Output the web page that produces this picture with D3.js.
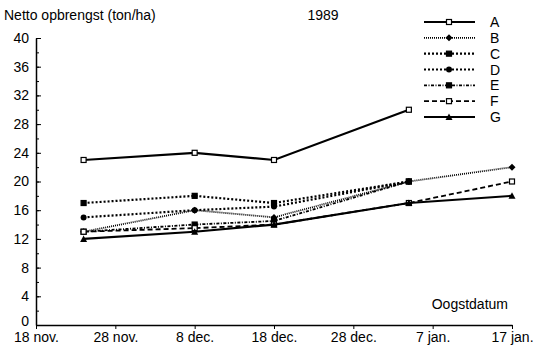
<!DOCTYPE html>
<html>
<head>
<meta charset="utf-8">
<script src="https://cdn.jsdelivr.net/npm/d3@7"></script>
<style>
  body { margin: 0; background: #fff; }
  text { font-family: "Liberation Sans", Arial, sans-serif; fill: #000; }
</style>
</head>
<body>
<svg width="534" height="350"></svg>
<script>
// Harvest dates (one sample per date) and tick labels
var dates = ['1988-11-24', '1988-12-08', '1988-12-18', '1989-01-04', '1989-01-17'];
var tickDates = ['1988-11-18', '1988-11-28', '1988-12-08', '1988-12-18', '1988-12-28', '1989-01-07', '1989-01-17'];
var tickLabels = ['18 nov.', '28 nov.', '8 dec.', '18 dec.', '28 dec.', '7 jan.', '17 jan.'];
var seriesNames = ['A', 'B', 'C', 'D', 'E', 'F', 'G'];

// Netto opbrengst (ton/ha) per series, null = no sample
var valuesA = [23, 24, 23, 30, null];
var valuesB = [13, 16, 15, 20, 22];
var valuesC = [17, 18, 17, 20, null];
var valuesD = [15, 16, 16.5, 20, null];
var valuesE = [13, 14, 14.5, 20, null];
var valuesF = [13, 13.5, 14, 17, 20];
var valuesG = [12, 13, 14, 17, 18];

var parseDate = d3.timeParse('%Y-%m-%d');

var series = [
  { name: 'A', values: valuesA, dash: null, width: 2.2, marker: 'openSquare' },
  { name: 'B', values: valuesB, dash: '1,1', width: 1.8, marker: 'diamond' },
  { name: 'C', values: valuesC, dash: '2,2', width: 2.2, marker: 'square' },
  { name: 'D', values: valuesD, dash: '2,2', width: 2.2, marker: 'circle' },
  { name: 'E', values: valuesE, dash: '3,1.5,1,1.5', width: 1.8, marker: 'square' },
  { name: 'F', values: valuesF, dash: '5,3', width: 1.8, marker: 'openSquare' },
  { name: 'G', values: valuesG, dash: null, width: 2.2, marker: 'triangle' }
];

var svg = d3.select('svg');

var x = d3.scaleTime()
  .domain([parseDate('1988-11-18'), parseDate('1989-01-17')])
  .range([36, 512]);
var y = d3.scaleLinear().domain([0, 40]).range([325, 38]);

// Y axis: minor ticks every 2, labelled ticks every 4
svg.append('g')
  .attr('transform', 'translate(36,0)')
  .call(d3.axisLeft(y).tickValues(d3.range(0, 41, 2)).tickSizeInner(-3).tickSizeOuter(0).tickFormat(''))
  .call(function (g) { g.selectAll('.domain').attr('stroke-width', 1.5); });

svg.append('g')
  .attr('transform', 'translate(36,0)')
  .call(d3.axisLeft(y).tickValues(d3.range(0, 41, 4)).tickSizeInner(-5).tickSizeOuter(0).tickPadding(7))
  .call(function (g) {
    g.select('.domain').remove();
    g.selectAll('text').attr('font-size', 14).attr('font-family', '"Liberation Sans", Arial, sans-serif');
    g.selectAll('text').filter(function (d) { return d === 0; }).attr('dy', '0.05em');
  });

// X axis
svg.append('g')
  .attr('transform', 'translate(0,325)')
  .call(d3.axisBottom(x)
    .tickValues(tickDates.map(parseDate))
    .tickSizeInner(4).tickSizeOuter(0).tickPadding(3)
    .tickFormat(function (d, i) { return tickLabels[i]; }))
  .call(function (g) {
    g.select('.domain').attr('stroke-width', 1.5);
    g.selectAll('text').attr('font-size', 14).attr('font-family', '"Liberation Sans", Arial, sans-serif');
  });

// Markers
function drawMarker(sel, type) {
  if (type === 'openSquare' || type === 'square') {
    sel.append('rect').attr('x', -2.5).attr('y', -2.5).attr('width', 5).attr('height', 5)
      .attr('fill', type === 'square' ? '#000' : '#fff').attr('stroke', '#000').attr('stroke-width', 1.2);
  } else if (type === 'circle') {
    sel.append('circle').attr('r', 3).attr('fill', '#000');
  } else if (type === 'diamond') {
    sel.append('path').attr('d', 'M0,-3.5L3.5,0L0,3.5L-3.5,0Z').attr('fill', '#000');
  } else {
    sel.append('path').attr('d', 'M0,-3.5L3.5,3L-3.5,3Z').attr('fill', '#000');
  }
}

var line = d3.line()
  .defined(function (d) { return d.v != null; })
  .x(function (d) { return x(d.date); })
  .y(function (d) { return y(d.v); });

series.forEach(function (s) {
  var pts = dates.map(function (d, i) { return { date: parseDate(d), v: s.values[i] }; });
  svg.append('path')
    .datum(pts)
    .attr('fill', 'none')
    .attr('stroke', '#000')
    .attr('stroke-width', s.width)
    .attr('stroke-dasharray', s.dash)
    .attr('d', line);
  pts.filter(function (p) { return p.v != null; }).forEach(function (p) {
    var g = svg.append('g').attr('transform', 'translate(' + x(p.date) + ',' + y(p.v) + ')');
    drawMarker(g, s.marker);
  });
});

// Legend
var legendY = d3.scalePoint().domain(seriesNames).range([22, 117]);
series.forEach(function (s) {
  var ly = legendY(s.name);
  svg.append('line')
    .attr('x1', 424).attr('x2', 475).attr('y1', ly).attr('y2', ly)
    .attr('stroke', '#000').attr('stroke-width', s.width).attr('stroke-dasharray', s.dash);
  drawMarker(svg.append('g').attr('transform', 'translate(449,' + ly + ')'), s.marker);
  svg.append('text').attr('x', 490).attr('y', ly + 5).attr('font-size', 14).text(s.name);
});

// Titles
svg.append('text').attr('x', 4).attr('y', 20).attr('font-size', 14).text('Netto opbrengst (ton/ha)');
svg.append('text').attr('x', 323).attr('y', 20).attr('font-size', 14).attr('text-anchor', 'middle').text('1989');
svg.append('text').attr('x', 508).attr('y', 309).attr('font-size', 14).attr('text-anchor', 'end').text('Oogstdatum');
</script>
</body>
</html>
